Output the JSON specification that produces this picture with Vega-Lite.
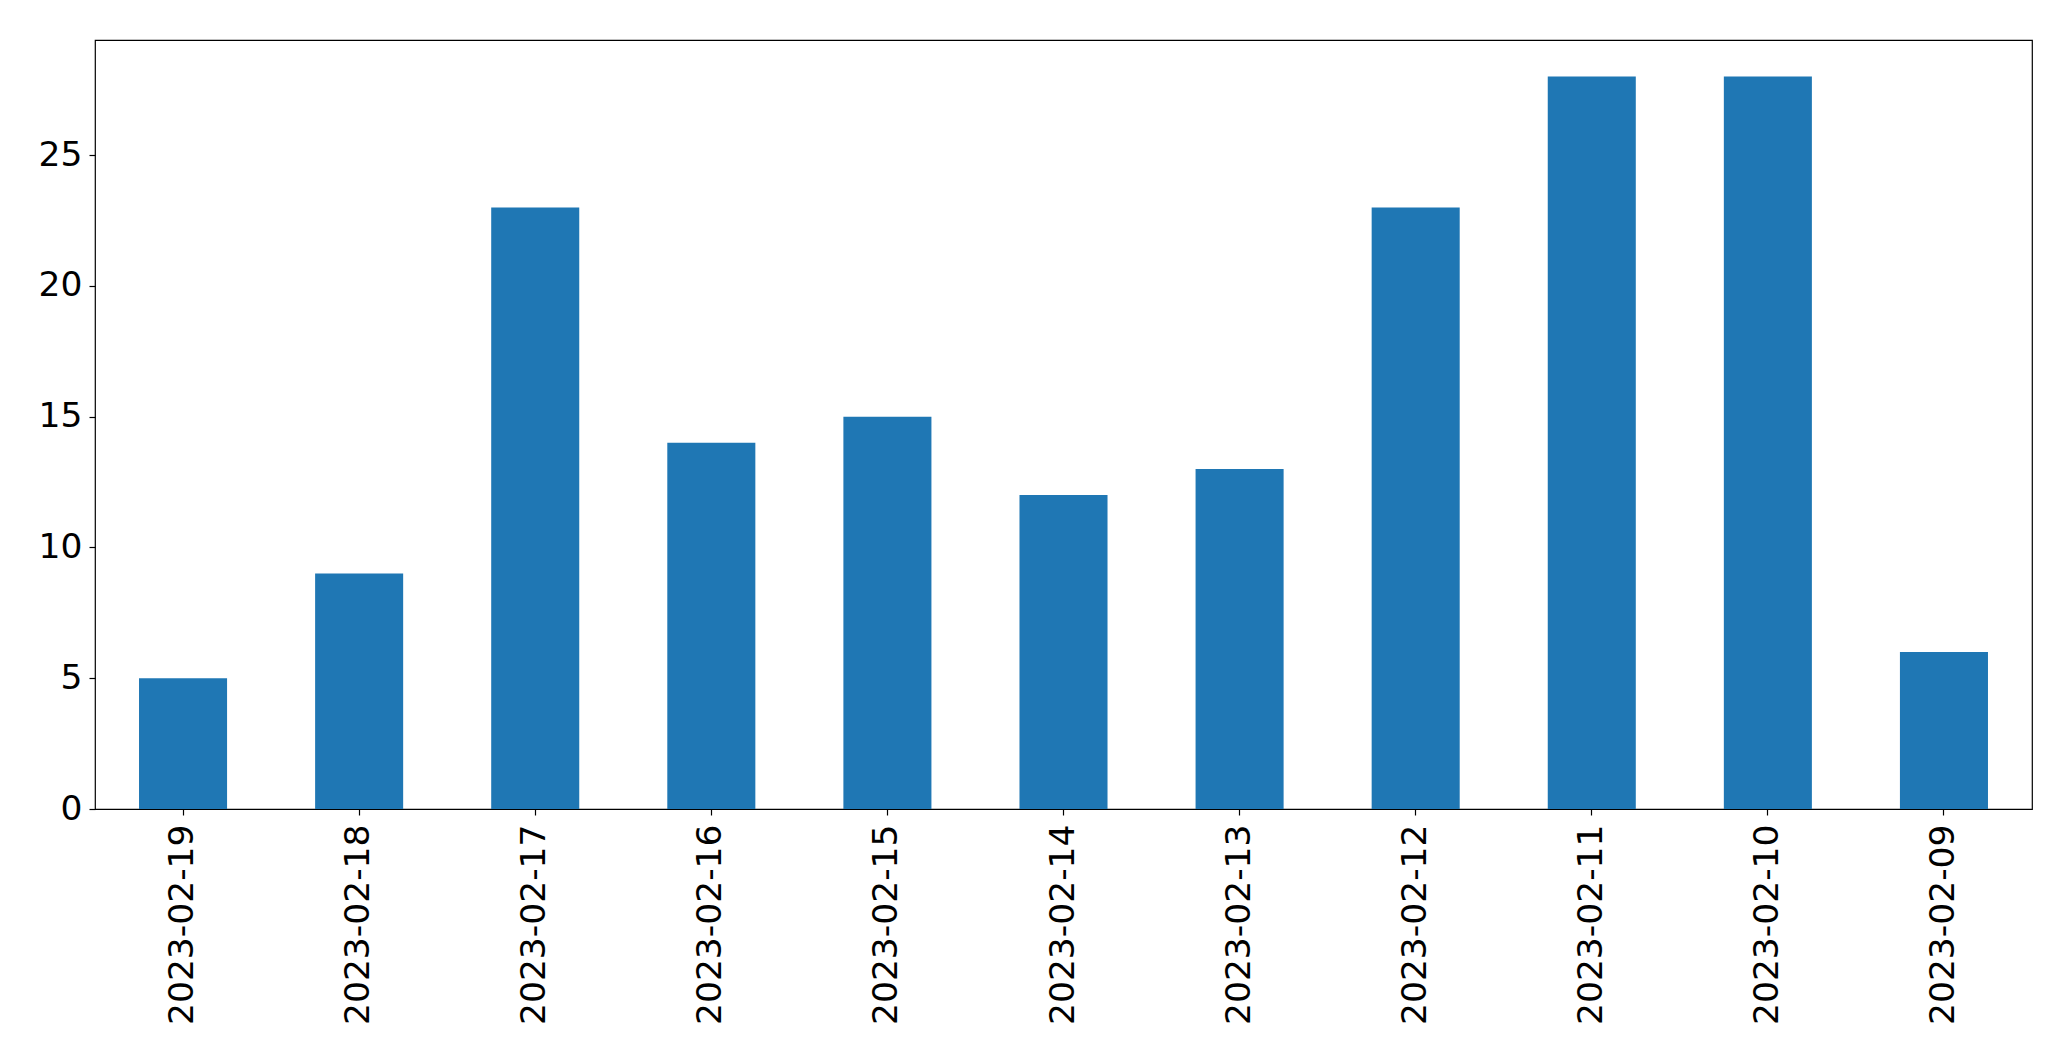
{
  "$schema": "https://vega.github.io/schema/vega-lite/v6.json",
  "autosize": {"type": "none"},
  "padding": {"left": 95, "top": 40, "right": 39, "bottom": 252},
  "width": 1937,
  "height": 769,
  "background": "white",
  "config": {
    "view": {"stroke": "black", "strokeWidth": 1.2},
    "axis": {
      "labelFont": "DejaVu Sans",
      "labelFontSize": 34.5,
      "labelColor": "black",
      "labelLimit": 0,
      "tickColor": "black",
      "tickSize": 6,
      "tickWidth": 1.2,
      "domain": false,
      "grid": false,
      "title": null
    }
  },
  "data": {
    "values": [
      {"date": "2023-02-19", "count": 5},
      {"date": "2023-02-18", "count": 9},
      {"date": "2023-02-17", "count": 23},
      {"date": "2023-02-16", "count": 14},
      {"date": "2023-02-15", "count": 15},
      {"date": "2023-02-14", "count": 12},
      {"date": "2023-02-13", "count": 13},
      {"date": "2023-02-12", "count": 23},
      {"date": "2023-02-11", "count": 28},
      {"date": "2023-02-10", "count": 28},
      {"date": "2023-02-09", "count": 6}
    ]
  },
  "mark": {"type": "bar", "color": "#1f77b4"},
  "encoding": {
    "x": {
      "field": "date",
      "type": "nominal",
      "sort": null,
      "scale": {"paddingInner": 0.5, "paddingOuter": 0.25},
      "axis": {"labelAngle": -90, "labelPadding": 9}
    },
    "y": {
      "field": "count",
      "type": "quantitative",
      "scale": {"domain": [0, 29.4], "nice": false, "zero": true},
      "axis": {"values": [0, 5, 10, 15, 20, 25], "labelPadding": 7}
    }
  }
}
